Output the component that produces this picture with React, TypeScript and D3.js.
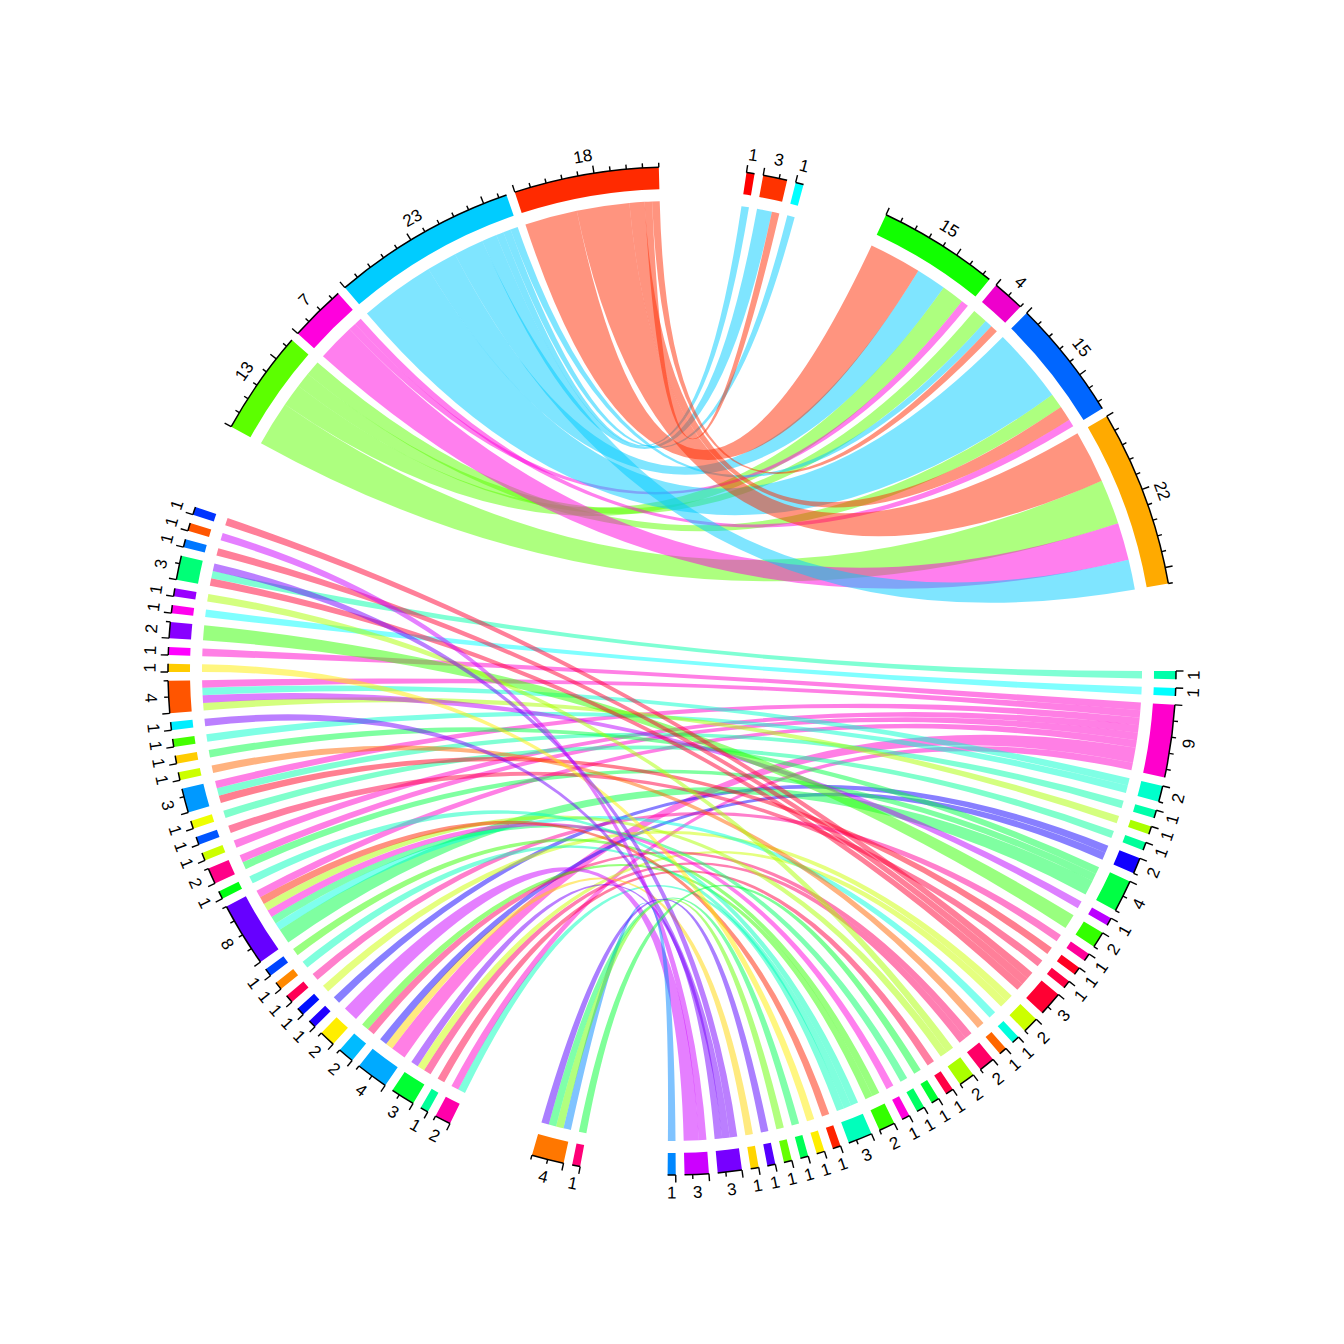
import React from "react";
import * as d3 from "d3";

// ---------------- data ----------------
// sectors in clockwise order starting at 3 o'clock
const sectorIds = [
  "R1","R2","R3","R4","R5","R6","R7","R8","R9","R10","R11","R12","R13","R14","R15","R16","R17","R18",
  "R19","R20","R21","R22","R23","R24","R25","R26","R27","R28","R29","R30","R31","R32","R33","R34","R35",
  "B1","B2",
  "L1","L2","L3","L4","L5","L6","L7","L8","L9","L10","L11","L12","L13","L14","L15","L16",
  "L17","L18","L19","L20","L21","L22","L23","L24","L25","L26","L27","L28","L29","L30","L31","L32",
  "S13","S7","S23","S18",
  "T1a","T3","T1b",
  "T15g","T4","T15b","T22",
];

const sectorColors = [
  "#00FFAA","#00FFFF","#FF00CC","#00FFCC","#00FFAA","#AAFF00","#00FF99","#1100FF","#00FF44","#BB00FF",
  "#33FF00","#FF0099","#FF0022","#FF0044","#FF0033","#CCFF00","#00FFDD","#FF6600","#FF0066","#AAFF00",
  "#FF0044","#00FF33","#00FF66","#FF00DD","#33FF00","#00FFBB","#FF2200","#FFEE00","#00FF55","#66FF00",
  "#5500FF","#FFD500","#7700FF","#CC00FF","#0088FF",
  "#FF0077","#FF7700",
  "#FF00AA","#00FF99","#00FF33","#00AAFF","#00BBFF","#FFEE00","#2200FF","#0011FF","#FF0055","#FF8800",
  "#0044FF","#6600FF","#00FF11","#FF0088","#CCFF00","#0055FF","#EEFF00","#0099FF","#CCFF00","#FFCC00",
  "#44FF00","#00EEFF","#FF5500","#FFCC00","#FF00FF","#8800FF","#FF00EE","#9900FF","#00FF77","#0077FF",
  "#FF5500","#0033FF",
  "#5CFF00","#FF00DD","#00CCFF","#FF2A00",
  "#FF0000","#FF3300","#00FFFF",
  "#11FF00","#EE00CC","#0066FF","#FFAA00",
];

const bigGapAfter = ["R35", "B2", "L32", "S18", "T1b", "T22"];

// top group links: [from, to, value]
const topLinks: [string, string, number][] = [
  ["S13","T15g",3],["S13","T4",2],["S13","T15b",2],["S13","T22",6],
  ["S7","T15g",1],["S7","T15b",1],["S7","T22",5],
  ["S23","T1a",1],["S23","T3",2],["S23","T1b",1],["S23","T15g",4],["S23","T4",1],["S23","T15b",10],["S23","T22",4],
  ["S18","T3",1],["S18","T15g",7],["S18","T4",1],["S18","T15b",2],["S18","T22",7],
];

// bottom group links: [from, to, value], listed in clockwise order along the receiving sector
const bottomLinks: [string, string, number][] = [
  ["R26","L1",1],["R3","L1",1],
  ["R21","L2",1],
  ["R19","L3",1],["R16","L3",1],["R33","L3",1],
  ["R3","L4",2],["R32","L4",1],["R8","L4",1],
  ["R19","L5",1],["R25","L5",1],
  ["R34","L6",2],
  ["R8","L7",1],
  ["R16","L8",1],
  ["R12","L9",1],
  ["R26","L10",1],
  ["R25","L11",1],
  ["R9","L12",2],["R17","L12",1],["R23","L12",1],["R24","L12",1],["R20","L12",1],["R27","L12",1],["R3","L12",1],
  ["R26","L13",1],
  ["R9","L14",1],["R3","L14",1],
  ["R3","L15",1],
  ["R14","L16",1],
  ["R7","L17",1],
  ["R13","L18",1],["R5","L18",1],["R3","L18",1],
  ["R18","L19",1],
  ["R9","L20",1],
  ["R4","L21",1],
  ["R33","L22",1],
  ["R6","L23",1],["R10","L23",1],["R4","L23",1],["R3","L23",1],
  ["R28","L24",1],
  ["R3","L25",1],
  ["R11","L26",2],
  ["R2","L27",1],
  ["R20","L28",1],
  ["R15","L29",1],["R1","L29",1],["R33","L29",1],
  ["R15","L30",1],
  ["R34","L31",1],
  ["R15","L32",1],
  ["R22","B1",1],
  ["R35","B2",1],["R30","B2",1],["R29","B2",1],["R31","B2",1],
];

// ---------------- layout constants ----------------
const SIZE = 1344;
const CX = 672;
const CY = 671;
const R_OUT = 504;
const R_IN = 482;
const R_LINK = 470;
const R_LABEL = 522;
const SMALL_GAP = 1;
const BIG_GAP = 10;
const START_DEG = 0;
const LINK_ALPHA = 0.5;

type Link = { from: string; to: string; value: number; group: string };
type End = { link: number; other: number; value: number; side: "from" | "to"; order: number };

function layout() {
  const links: Link[] = [
    ...topLinks.map(([from, to, value]) => ({ from, to, value, group: "top" })),
    ...bottomLinks.map(([from, to, value]) => ({ from, to, value, group: "bottom" })),
  ];
  const idx = new Map<string, number>(sectorIds.map((id, i) => [id, i]));
  const totals = sectorIds.map(() => 0);
  links.forEach((l) => {
    totals[idx.get(l.from)!] += l.value;
    totals[idx.get(l.to)!] += l.value;
  });
  const gaps = sectorIds.map((id) => (bigGapAfter.includes(id) ? BIG_GAP : SMALL_GAP));
  const unit = (360 - d3.sum(gaps)) / d3.sum(totals);

  const starts: number[] = [];
  const endsA: number[] = [];
  let cur = START_DEG;
  sectorIds.forEach((_, i) => {
    starts[i] = cur;
    endsA[i] = cur - totals[i] * unit;
    cur = endsA[i] - gaps[i];
  });
  const mids = starts.map((s, i) => (s + endsA[i]) / 2);

  const bySector: End[][] = sectorIds.map(() => []);
  links.forEach((l, k) => {
    const a = idx.get(l.from)!;
    const b = idx.get(l.to)!;
    bySector[a].push({ link: k, other: b, value: l.value, side: "from", order: k });
    bySector[b].push({ link: k, other: a, value: l.value, side: "to", order: k });
  });

  const pos: { from?: [number, number]; to?: [number, number] }[] = links.map(() => ({}));
  bySector.forEach((list, i) => {
    const id = sectorIds[i];
    let sorted: End[];
    if (id.startsWith("R")) {
      const cw = (e: End) => (((mids[i] - mids[e.other]) % 360) + 360) % 360;
      sorted = list.slice().sort((p, q) => cw(q) - cw(p));
    } else if (id.startsWith("S") || id.startsWith("T")) {
      sorted = list.slice().sort((p, q) => q.value - p.value || p.other - q.other);
    } else {
      sorted = list.slice().sort((p, q) => p.order - q.order);
    }
    let off = 0;
    sorted.forEach((e) => {
      pos[e.link][e.side] = [off, off + e.value];
      off += e.value;
    });
  });

  return { links, idx, totals, unit, starts, endsA, mids, pos };
}

const toD3 = (deg: number) => ((90 - deg) * Math.PI) / 180;
const rad = (deg: number) => (deg * Math.PI) / 180;

export default function App() {
  const L = React.useMemo(layout, []);
  const { links, idx, totals, unit, starts, endsA, mids, pos } = L;

  const arcGen = d3.arc<any>();
  const ribbon = (d3.ribbon() as any).radius(R_LINK);

  const blocks = sectorIds.map((id, i) => (
    <path
      key={"b" + id}
      d={arcGen({ innerRadius: R_IN, outerRadius: R_OUT, startAngle: toD3(starts[i]), endAngle: toD3(endsA[i]) }) || ""}
      fill={sectorColors[i]}
    />
  ));

  const axes = sectorIds.map((id, i) => {
    const p = d3.path();
    p.arc(0, 0, R_OUT, -rad(starts[i]), -rad(endsA[i]), false);
    const ticks = d3.range(0, totals[i] + 1e-9, 2).map((k) => {
      const th = rad(starts[i] - k * unit);
      const len = k % 10 === 0 ? 7.5 : 4.5;
      return (
        <line
          key={"t" + id + k}
          x1={R_OUT * Math.cos(th)}
          y1={-R_OUT * Math.sin(th)}
          x2={(R_OUT + len) * Math.cos(th)}
          y2={-(R_OUT + len) * Math.sin(th)}
          stroke="#000"
          strokeWidth={1.4}
        />
      );
    });
    return (
      <g key={"a" + id}>
        <path d={p.toString()} fill="none" stroke="#000" strokeWidth={1.5} />
        {ticks}
      </g>
    );
  });

  const labels = sectorIds.map((id, i) => {
    const m = ((mids[i] % 360) + 360) % 360;
    const x = R_LABEL * Math.cos(rad(m));
    const y = -R_LABEL * Math.sin(rad(m));
    const rot = m > 0 && m < 180 ? 90 - m : 270 - m;
    return (
      <text
        key={"l" + id}
        transform={`translate(${x},${y}) rotate(${rot})`}
        textAnchor="middle"
        dominantBaseline="central"
        fontFamily="Liberation Sans, Arial, Helvetica, sans-serif"
        fontSize={17}
        fill="#000"
      >
        {totals[i]}
      </text>
    );
  });

  const ribbons = links.map((l, k) => {
    const a = idx.get(l.from)!;
    const b = idx.get(l.to)!;
    const [s0, s1] = pos[k].from!;
    const [t0, t1] = pos[k].to!;
    const d = ribbon({
      source: { startAngle: toD3(starts[a] - s0 * unit), endAngle: toD3(starts[a] - s1 * unit) },
      target: { startAngle: toD3(starts[b] - t0 * unit), endAngle: toD3(starts[b] - t1 * unit) },
    });
    return <path key={"r" + k} d={d} fill={sectorColors[a]} fillOpacity={LINK_ALPHA} stroke="none" />;
  });

  return (
    <svg
      width={SIZE}
      height={SIZE}
      viewBox={`0 0 ${SIZE} ${SIZE}`}
      style={{ position: "absolute", left: 0, top: 0, background: "#fff" }}
    >
      <rect x={0} y={0} width={SIZE} height={SIZE} fill="#fff" />
      <g transform={`translate(${CX},${CY})`}>
        {ribbons}
        {blocks}
        {axes}
        {labels}
      </g>
    </svg>
  );
}
